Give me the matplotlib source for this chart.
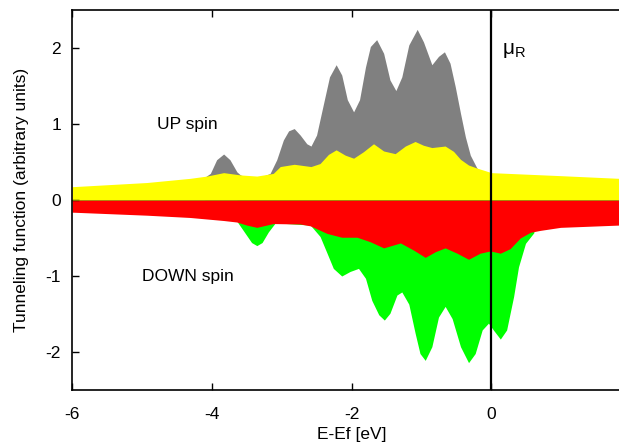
import numpy as np
import matplotlib as mpl
mpl.use('Agg')
import matplotlib.pyplot as plt

plt.rcParams['font.family'] = ['Liberation Sans', 'DejaVu Sans']
plt.rcParams['axes.unicode_minus'] = False

# ~~~ values ~~~
# UP spin, total (grey upper edge)
e_gray = [-4.10, -4.02, -3.93, -3.83, -3.74, -3.64, -3.59, -3.50, -3.30, -3.165,
          -3.07, -2.975, -2.90, -2.82, -2.735, -2.64, -2.58, -2.50, -2.40, -2.315,
          -2.22, -2.14, -2.06, -1.97, -1.885, -1.80, -1.73, -1.64, -1.54, -1.45,
          -1.365, -1.28, -1.18, -1.06, -0.97, -0.85, -0.755, -0.67, -0.59, -0.515,
          -0.44, -0.37, -0.30, -0.205, -0.12]
t_gray = [0.30, 0.35, 0.53, 0.605, 0.53, 0.37, 0.33, 0.30, 0.30, 0.35,
          0.53, 0.79, 0.91, 0.94, 0.855, 0.74, 0.71, 0.855, 1.27, 1.62,
          1.78, 1.645, 1.32, 1.16, 1.32, 1.75, 2.02, 2.11, 1.93, 1.58,
          1.44, 1.62, 2.04, 2.245, 2.08, 1.78, 1.89, 1.95, 1.80, 1.49,
          1.14, 0.83, 0.59, 0.42, 0.37]

# UP spin, lower part (yellow)
e_yel = [-6.0, -4.93, -4.31, -4.07, -3.83, -3.59, -3.355, -3.12, -3.02, -2.82,
         -2.58, -2.45, -2.33, -2.22, -2.09, -1.97, -1.83, -1.685, -1.54, -1.375,
         -1.23, -1.09, -0.97, -0.85, -0.66, -0.54, -0.44, -0.325, -0.205, -0.086,
         0.0, 0.5, 1.0, 1.83, 2.0]
t_yel = [0.175, 0.23, 0.285, 0.315, 0.36, 0.33, 0.315, 0.35, 0.44, 0.47,
         0.44, 0.48, 0.60, 0.66, 0.59, 0.55, 0.635, 0.74, 0.645, 0.61,
         0.71, 0.77, 0.72, 0.69, 0.71, 0.64, 0.535, 0.46, 0.42, 0.386,
         0.36, 0.34, 0.32, 0.285, 0.28]

# DOWN spin, total (green lower edge)
e_grn = [-3.64, -3.52, -3.43, -3.355, -3.28, -3.19, -3.09, -2.59, -2.45, -2.35,
         -2.26, -2.14, -2.02, -1.90, -1.80, -1.71, -1.61, -1.53, -1.45, -1.35,
         -1.28, -1.18, -1.09, -1.02, -0.945, -0.85, -0.755, -0.66, -0.56, -0.44,
         -0.325, -0.23, -0.13, -0.04, 0.03, 0.13, 0.22, 0.32, 0.39, 0.49, 0.61]
t_grn = [-0.28, -0.44, -0.56, -0.60, -0.56, -0.42, -0.30, -0.33, -0.48, -0.70,
         -0.90, -1.00, -0.94, -0.90, -1.03, -1.32, -1.51, -1.58, -1.49, -1.25,
         -1.21, -1.37, -1.75, -2.02, -2.11, -1.93, -1.54, -1.40, -1.56, -1.93,
         -2.14, -2.02, -1.71, -1.62, -1.71, -1.83, -1.71, -1.27, -0.88, -0.57, -0.43]

# DOWN spin, upper part (red)
e_red = [-6.0, -4.93, -4.31, -3.83, -3.64, -3.50, -3.355, -3.12, -2.735, -2.59,
         -2.35, -2.14, -1.92, -1.73, -1.54, -1.30, -1.11, -0.945, -0.80, -0.66,
         -0.49, -0.325, -0.16, -0.014, 0.13, 0.27, 0.415, 0.56, 0.70, 0.99,
         1.83, 2.0]
t_red = [-0.16, -0.20, -0.23, -0.27, -0.29, -0.33, -0.36, -0.31, -0.316, -0.34,
         -0.44, -0.49, -0.49, -0.55, -0.63, -0.565, -0.66, -0.755, -0.68, -0.63,
         -0.70, -0.78, -0.70, -0.67, -0.70, -0.64, -0.50, -0.425, -0.40, -0.36,
         -0.33, -0.32]

fig = plt.figure(figsize=(6.19, 4.44), dpi=100)
# right edge of the frame (E = 2) falls just outside the picture
ax = fig.add_axes([72/619, 54/444, 559/619, 380/444])

ax.fill_between(e_gray, 0, t_gray, color='#808080', lw=0)
ax.fill_between(e_yel, 0, t_yel, color='#ffff00', lw=0)
ax.fill_between(e_grn, 0, t_grn, color='#00ff00', lw=0)
ax.fill_between(e_red, 0, t_red, color='#ff0000', lw=0)
ax.axhline(0, color='#a08a00', lw=0.6)
ax.axvline(0, color='black', lw=1.6)

ax.text(-4.35, 0.99, 'UP spin', fontsize=12.5, ha='center', va='center')
ax.text(-4.34, -1.0, 'DOWN spin', fontsize=12.5, ha='center', va='center')
ax.text(0.15, 1.97, 'μ$_\\mathregular{R}$', fontsize=15, ha='left', va='center')

ax.set_xlim(-6, 2)
ax.set_ylim(-2.5, 2.5)
ax.set_xticks([-6, -4, -2, 0])
ax.set_yticks([-2, -1, 0, 1, 2])
ax.tick_params(direction='in', top=True, right=True, length=5, width=1,
               labelsize=12.5, pad=12)
ax.tick_params(axis='y', pad=8)
for s in ax.spines.values():
    s.set_linewidth(1.2)
ax.set_xlabel('E-Ef [eV]', fontsize=12.5, labelpad=4)
ax.set_ylabel('Tunneling function (arbitrary units)', fontsize=12.5, labelpad=12)

plt.savefig('out.png', dpi=100)
